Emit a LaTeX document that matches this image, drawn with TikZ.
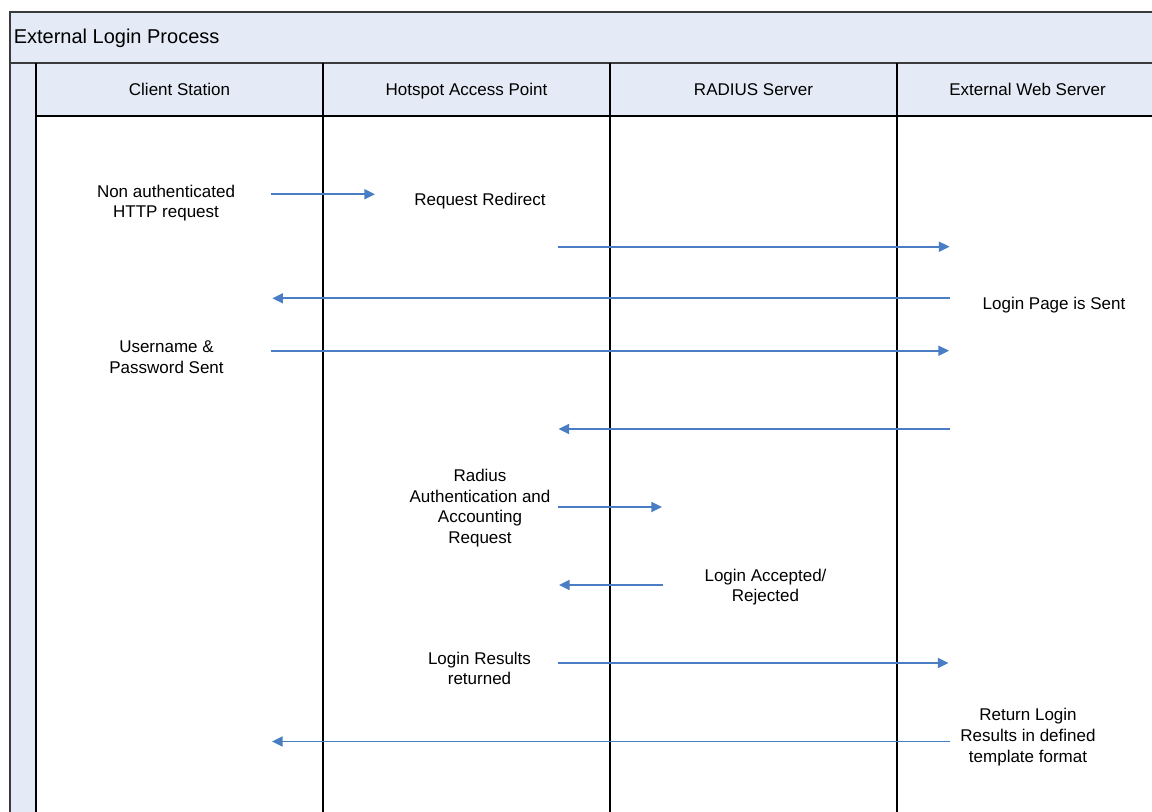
\documentclass[tikz,border=0pt]{standalone}
\usepackage{fontspec}
\setmainfont{Liberation Sans}
\usetikzlibrary{arrows.meta}
\definecolor{hdr}{HTML}{E4EBF6}
\definecolor{arr}{HTML}{4A7EC4}
\definecolor{framec}{HTML}{3A3A3A}
\begin{document}
\begin{tikzpicture}[x=0.75pt,y=-0.75pt,
  lbl/.style={align=center,inner sep=0pt,font=\fontsize{12.75}{15.5}\selectfont},
  one/.style={inner sep=0pt,anchor=base,font=\fontsize{12.75}{15.5}\selectfont},
  ttl/.style={inner sep=0pt,anchor=base west,font=\fontsize{15}{18}\selectfont},
  msg/.style={draw=arr,line width=1.4pt,-{Triangle[length=8pt,width=7.5pt]}},
  lanel/.style={draw=black,line width=0.8pt},
  framel/.style={draw=framec,line width=1.2pt}]
\useasboundingbox (0,0) rectangle (1152,812);
\clip (0,0) rectangle (1152,812);
\fill[white] (0,0) rectangle (1152,812);
% fills
\fill[hdr] (10,12) rectangle (1160,116);
\fill[hdr] (10,116) rectangle (36,830);
% frame
\draw[framel] (10,830) -- (10,12) -- (1160,12);
\draw[framel] (10,63) -- (1160,63);
% lanes
\draw[lanel] (36,63) -- (36,830);
\draw[lanel] (36,116) -- (1160,116);
\draw[lanel] (323,63) -- (323,830);
\draw[lanel] (610,63) -- (610,830);
\draw[lanel] (897,63) -- (897,830);
% title and headers
\node[ttl] (title) at (13.5,44) {External Login Process};
\node[one] (h1) at (179.5,96) {Client Station};
\node[one] (h2) at (466.5,96) {Hotspot Access Point};
\node[one] (h3) at (753.5,96) {RADIUS Server};
\node[one] (h4) at (1027.5,96) {External Web Server};
% labels
\node[lbl] (t1) at (166,203) {Non authenticated\\HTTP request};
\node[one] (t2) at (480,206) {Request Redirect};
\node[one] (t3) at (1054,310) {Login Page is Sent};
\node[lbl] (t4) at (166.5,357.5) {Username \&\\Password Sent};
\node[lbl] (t6) at (480,508) {Radius\\Authentication and\\Accounting\\Request};
\node[lbl] (t7) at (765.5,587) {Login Accepted/\\Rejected};
\node[lbl] (t8) at (479.5,668.5) {Login Results\\returned};
\node[lbl] (t9) at (1028,737) {Return Login\\Results in defined\\template format};
% arrow end points
\coordinate (a1s) at (270.5,194.3); \coordinate (a1e) at (375,194.3);
\coordinate (a2s) at (557.5,246.7); \coordinate (a2e) at (949.5,246.7);
\coordinate (a3s) at (950,298.3);   \coordinate (a3e) at (272.3,298.3);
\coordinate (a4s) at (270.5,350.7); \coordinate (a4e) at (949,350.7);
\coordinate (a5s) at (950,429);     \coordinate (a5e) at (558.5,429);
\coordinate (a6s) at (557.5,507);   \coordinate (a6e) at (662,507);
\coordinate (a7s) at (663,585);     \coordinate (a7e) at (559,585);
\coordinate (a8s) at (557.5,663);   \coordinate (a8e) at (948.5,663);
\coordinate (a9s) at (950,741.5);   \coordinate (a9e) at (272,741.5);
% messages
\draw[msg] (a1s) -- (a1e);
\draw[msg] (a2s) -- (a2e);
\draw[msg] (a3s) -- (a3e);
\draw[msg] (a4s) -- (a4e);
\draw[msg] (a5s) -- (a5e);
\draw[msg] (a6s) -- (a6e);
\draw[msg] (a7s) -- (a7e);
\draw[msg] (a8s) -- (a8e);
\draw[msg] (a9s) -- (a9e);
\end{tikzpicture}
\end{document}
